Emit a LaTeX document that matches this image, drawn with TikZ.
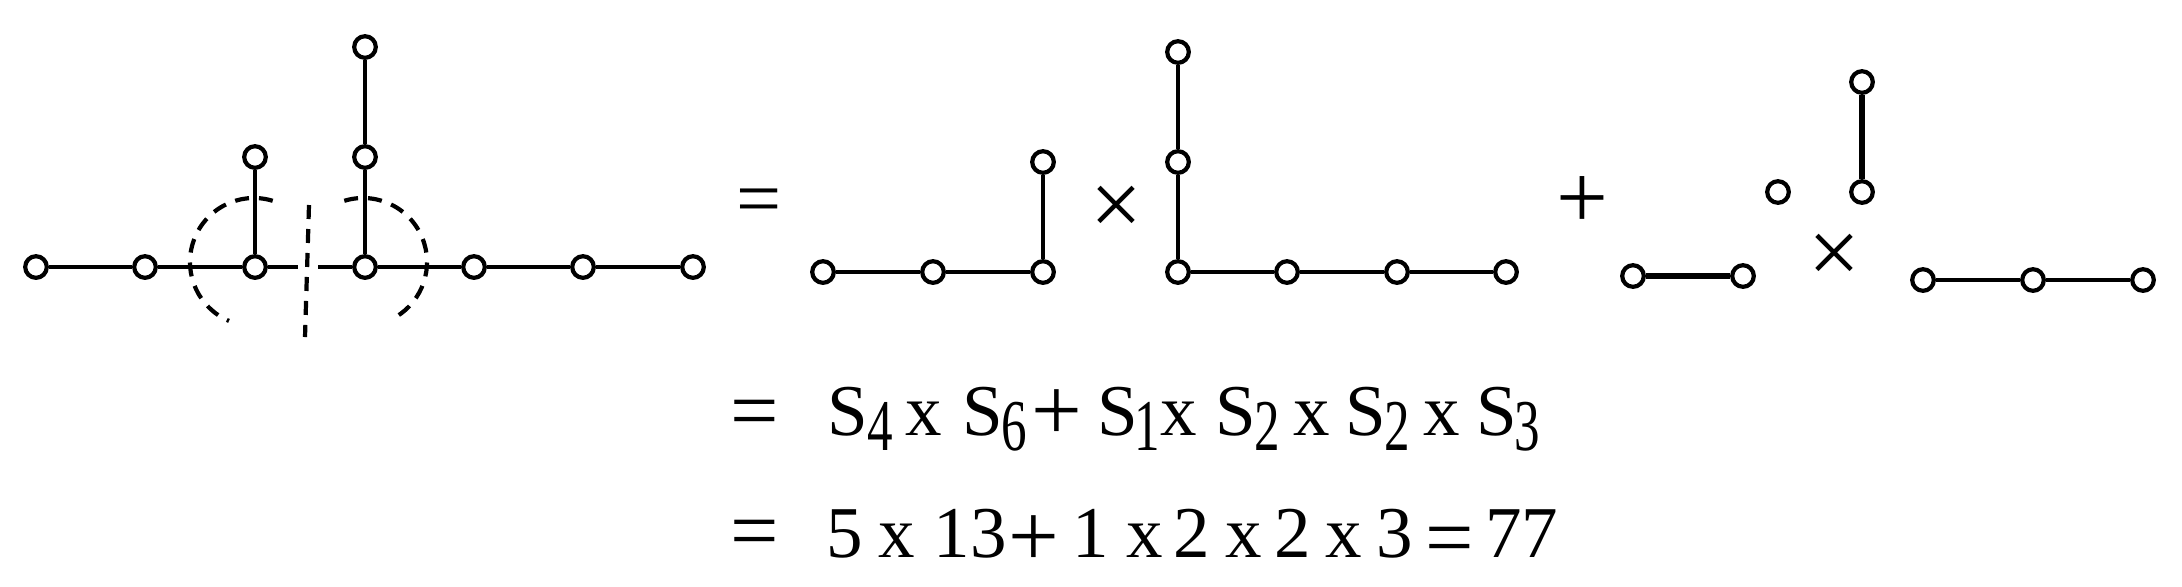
\documentclass[tikz,border=0pt]{standalone}
\usepackage{fontspec}
\setmainfont{Liberation Serif}
\usepackage{graphicx}
\newcommand\sbx[1]{\scalebox{0.7}[1]{#1}}
\begin{document}
\begin{tikzpicture}[x=0.5pt,y=-0.5pt,
  v/.style={circle,draw,line width=2.1pt,minimum size=10.8pt,inner sep=0pt,fill=white},
  ln/.style={line width=2.1pt},
  lnb/.style={line width=2.6pt},
  dsh/.style={line width=2.1pt,dash pattern=on 7pt off 5pt},
  tx/.style={inner sep=0pt,anchor=base,font=\fontsize{36.5pt}{40pt}\selectfont},
  opl/.style={inner sep=0pt,anchor=base,font=\fontsize{45pt}{48pt}\selectfont},
  eql/.style={inner sep=0pt,anchor=base,font=\fontsize{43pt}{46pt}\selectfont},
  bigop/.style={inner sep=0pt,anchor=base,font=\fontsize{46pt}{50pt}\selectfont},
  bigeq/.style={inner sep=0pt,anchor=base,font=\fontsize{40pt}{44pt}\selectfont}]
\useasboundingbox (0,0) rectangle (2182,586);

% ---------- left graph ----------
\node[v] (a1) at (36,267) {};
\node[v] (a2) at (145,267) {};
\node[v] (a3) at (255,267) {};
\node[v] (a4) at (365,267) {};
\node[v] (a5) at (474,267) {};
\node[v] (a6) at (583,267) {};
\node[v] (a7) at (693,267) {};
\node[v] (b1) at (255,157) {};
\node[v] (c1) at (365,157) {};
\node[v] (c2) at (365,47) {};
\coordinate (gl) at (298,267);
\coordinate (gr) at (318,267);
\draw[ln] (a1) -- (a2);
\draw[ln] (a2) -- (a3);
\draw[ln] (a3) -- (gl);
\draw[ln] (gr) -- (a4);
\draw[ln] (a4) -- (a5);
\draw[ln] (a5) -- (a6);
\draw[ln] (a6) -- (a7);
\draw[ln] (a3) -- (b1);
\draw[ln] (a4) -- (c1);
\draw[ln] (c1) -- (c2);
% dashed cuts
\coordinate (la) at (272.7,200.8);
\coordinate (ra) at (344.3,200.8);
\coordinate (vt) at (309,205);
\coordinate (vb) at (305,337);
\draw[dsh] (la) arc[start angle=-73,end angle=-247,radius=64];
\draw[dsh] (ra) arc[start angle=-107,end angle=64,radius=64];
\draw[dsh] (vt) -- (vb);

% ---------- top row operators ----------
\node[bigeq] (eq0) at (759,225) {=};
\node[bigop] (tm1) at (1116,235) {×};
\node[bigop] (pl0) at (1582,228) {+};
\node[bigop] (tm2) at (1834,283) {×};

% ---------- graph 2 ----------
\node[v] (g1) at (823,272) {};
\node[v] (g2) at (933,272) {};
\node[v] (g3) at (1043,272) {};
\node[v] (g4) at (1043,162) {};
\draw[ln] (g1) -- (g2);
\draw[ln] (g2) -- (g3);
\draw[ln] (g3) -- (g4);

% ---------- graph 3 ----------
\node[v] (h1) at (1178,272) {};
\node[v] (h2) at (1178,162) {};
\node[v] (h3) at (1178,52) {};
\node[v] (h4) at (1287,272) {};
\node[v] (h5) at (1397,272) {};
\node[v] (h6) at (1506,272) {};
\draw[ln] (h1) -- (h2);
\draw[ln] (h2) -- (h3);
\draw[ln] (h1) -- (h4);
\draw[ln] (h4) -- (h5);
\draw[ln] (h5) -- (h6);

% ---------- graph 4, single node, graph 5 ----------
\node[v] (k1) at (1633,276) {};
\node[v] (k2) at (1743,276) {};
\draw[lnb] (k1) -- (k2);
\node[v] (m1) at (1778,192) {};
\node[v] (n1) at (1862,192) {};
\node[v] (n2) at (1862,82) {};
\draw[lnb] (n1) -- (n2);

% ---------- graph 6 ----------
\node[v] (q1) at (1923,280) {};
\node[v] (q2) at (2033,280) {};
\node[v] (q3) at (2143,280) {};
\draw[ln] (q1) -- (q2);
\draw[ln] (q2) -- (q3);

% ---------- line 1 ----------
\node[eql] (e1) at (755,439) {=};
\node[tx] (s1) at (847.5,435) {S};
\node[tx] (i1) at (880,450) {\sbx{4}};
\node[tx] (x1) at (924,435) {x};
\node[tx] (s2) at (982.5,435) {S};
\node[tx] (i2) at (1014,450) {\sbx{6}};
\node[opl] (p1) at (1056.5,440) {+};
\node[tx] (s3) at (1117.5,435) {S};
\node[tx] (i3) at (1147,450) {\sbx{1}};
\node[tx] (x2) at (1179,435) {x};
\node[tx] (s4) at (1236,435) {S};
\node[tx] (i4) at (1267.5,450) {\sbx{2}};
\node[tx] (x3) at (1311.5,435) {x};
\node[tx] (s5) at (1366,435) {S};
\node[tx] (i5) at (1397.5,450) {\sbx{2}};
\node[tx] (x4) at (1441.5,435) {x};
\node[tx] (s6) at (1496.5,435) {S};
\node[tx] (i6) at (1527.5,450) {\sbx{3}};

% ---------- line 2 ----------
\node[eql] (e2) at (755,559) {=};
\node[tx] (d1) at (845,557) {5};
\node[tx] (y1) at (896.5,557) {x};
\node[tx] (d2) at (970,557) {13};
\node[opl] (p2) at (1034,566) {+};
\node[tx] (d3) at (1091,557) {1};
\node[tx] (y2) at (1145,557) {x};
\node[tx] (d4) at (1192,557) {2};
\node[tx] (y3) at (1243.5,557) {x};
\node[tx] (d5) at (1293,557) {2};
\node[tx] (y4) at (1344,557) {x};
\node[tx] (d6) at (1395,557) {3};
\node[eql] (e3) at (1450,566) {=};
\node[tx] (d7) at (1521.5,557) {77};
\end{tikzpicture}
\end{document}
